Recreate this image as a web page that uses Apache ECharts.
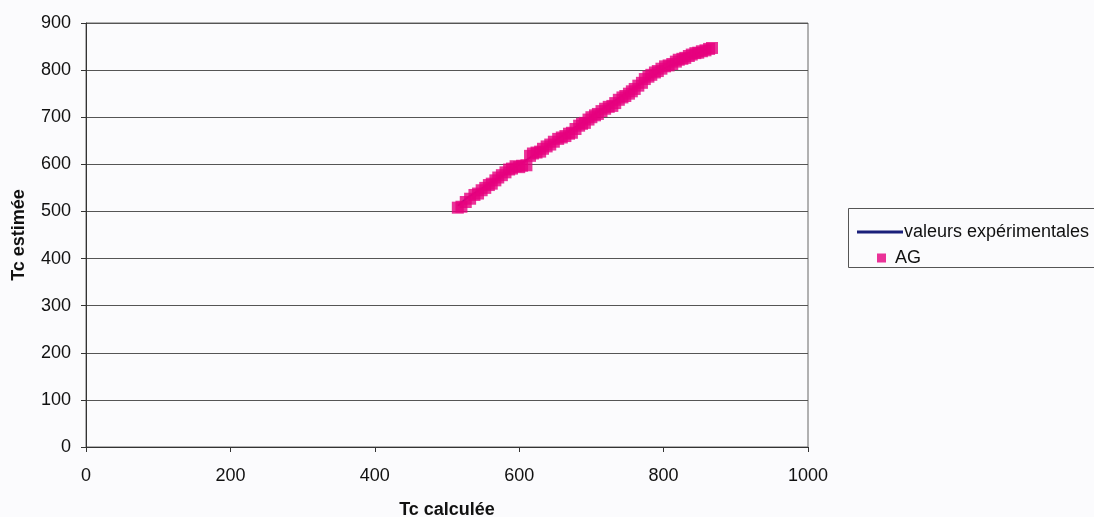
<!DOCTYPE html>
<html>
<head>
<meta charset="utf-8">
<script src="https://cdn.jsdelivr.net/npm/echarts@6/dist/echarts.min.js"></script>
<style>
html,body{margin:0;padding:0;background:#fbfbfd;overflow:hidden;}
#c{width:1094px;height:517px;}
</style>
</head>
<body>
<div id="c"></div>
<script>
// AG series: Tc calculée (x) vs Tc estimée (y)
const agX = [515, 520, 526, 532, 538, 543, 548, 553, 558, 562, 567, 571, 576, 581, 586, 590, 595, 600, 604, 610,
             615, 619, 624, 629, 633, 638, 643, 648, 654, 659, 664, 669, 673, 678, 683, 687, 691, 696, 700, 705,
             709, 714, 719, 724, 729, 733, 738, 743, 747, 752, 756, 760, 765, 770, 774, 779, 783, 788, 792, 797,
             802, 807, 812, 817, 821, 826, 830, 835, 839, 844, 848, 853, 858, 863, 867];
const agY = [508, 510, 520, 527, 535, 538, 545, 550, 556, 559, 566, 572, 577, 583, 589, 591, 596, 594, 597, 598,
             618, 623, 625, 627, 633, 638, 642, 648, 654, 657, 660, 665, 667, 675, 682, 686, 688, 695, 700, 704,
             707, 713, 718, 722, 724, 730, 737, 742, 745, 750, 755, 760, 767, 773, 781, 786, 790, 795, 798, 803,
             808, 810, 813, 818, 822, 824, 826, 830, 833, 836, 837, 840, 842, 845, 847];
// valeurs expérimentales line
const expX = [515, 528, 608, 700, 800, 860];
const expY = [512, 529, 607, 702, 803, 845];
// axis ticks
const xTicks = [0, 200, 400, 600, 800, 1000];
const yTicks = [0, 100, 200, 300, 400, 500, 600, 700, 800, 900];

const agData = agX.map((x, i) => [x, agY[i]]);
const expData = expX.map((x, i) => [x, expY[i]]);

const chart = echarts.init(document.getElementById('c'), null, {renderer: 'canvas'});
const font = '"Liberation Sans", Arial, sans-serif';
chart.setOption({
  backgroundColor: '#fbfbfd',
  animation: false,
  textStyle: {fontFamily: font},
  grid: {left: 86, right: 286, top: 23, bottom: 70, outerBoundsMode: 'none', containLabel: false,
         show: true, borderColor: '#666', borderWidth: 1, backgroundColor: 'transparent'},
  xAxis: {
    type: 'value', min: xTicks[0], max: xTicks[xTicks.length - 1], interval: 200,
    name: 'Tc calculée', nameLocation: 'middle', nameGap: 54,
    nameTextStyle: {fontFamily: font, fontWeight: 'bold', fontSize: 18, color: '#111'},
    axisLine: {show: true, onZero: false, lineStyle: {color: '#333', width: 1}},
    axisTick: {show: true, inside: false, length: 5, lineStyle: {color: '#333'}},
    axisLabel: {fontFamily: font, fontSize: 18, color: '#111', margin: 20, formatter: v => String(v)},
    splitLine: {show: false}
  },
  yAxis: {
    type: 'value', min: yTicks[0], max: yTicks[yTicks.length - 1], interval: 100,
    name: 'Tc estimée', nameLocation: 'middle', nameGap: 58, nameRotate: 90,
    nameTextStyle: {fontFamily: font, fontWeight: 'bold', fontSize: 18, color: '#111'},
    axisLine: {show: true, onZero: false, lineStyle: {color: '#333', width: 1}},
    axisTick: {show: true, inside: false, length: 5, lineStyle: {color: '#333'}},
    axisLabel: {fontFamily: font, fontSize: 18, color: '#111', margin: 15},
    splitLine: {show: true, lineStyle: {color: '#555', width: 1}}
  },
  legend: [
    {
      data: [{name: 'valeurs expérimentales', icon: 'rect'}],
      left: 852, top: 218, itemWidth: 46, itemHeight: 3, itemGap: 2,
      textStyle: {fontFamily: font, fontSize: 18, color: '#111', padding: [0, 0, 0, -4]}
    },
    {
      data: [{name: 'AG', icon: 'rect'}],
      left: 872, top: 244, itemWidth: 9, itemHeight: 9,
      textStyle: {fontFamily: font, fontSize: 18, color: '#111', padding: [0, 0, 0, 4]}
    }
  ],
  graphic: [{
    type: 'rect', left: 848, top: 208, z: -1,
    shape: {width: 260, height: 59},
    style: {fill: 'transparent', stroke: '#555', lineWidth: 1}
  }],
  series: [
    {
      name: 'valeurs expérimentales', type: 'line', data: expData,
      symbol: 'none', lineStyle: {color: '#1a1f7a', width: 2}, itemStyle: {color: '#1a1f7a'}, z: 2
    },
    {
      name: 'AG', type: 'scatter', data: agData,
      symbol: 'rect', symbolSize: 12, itemStyle: {color: '#e6007e'}, z: 3
    }
  ]
});
</script>
</body>
</html>
